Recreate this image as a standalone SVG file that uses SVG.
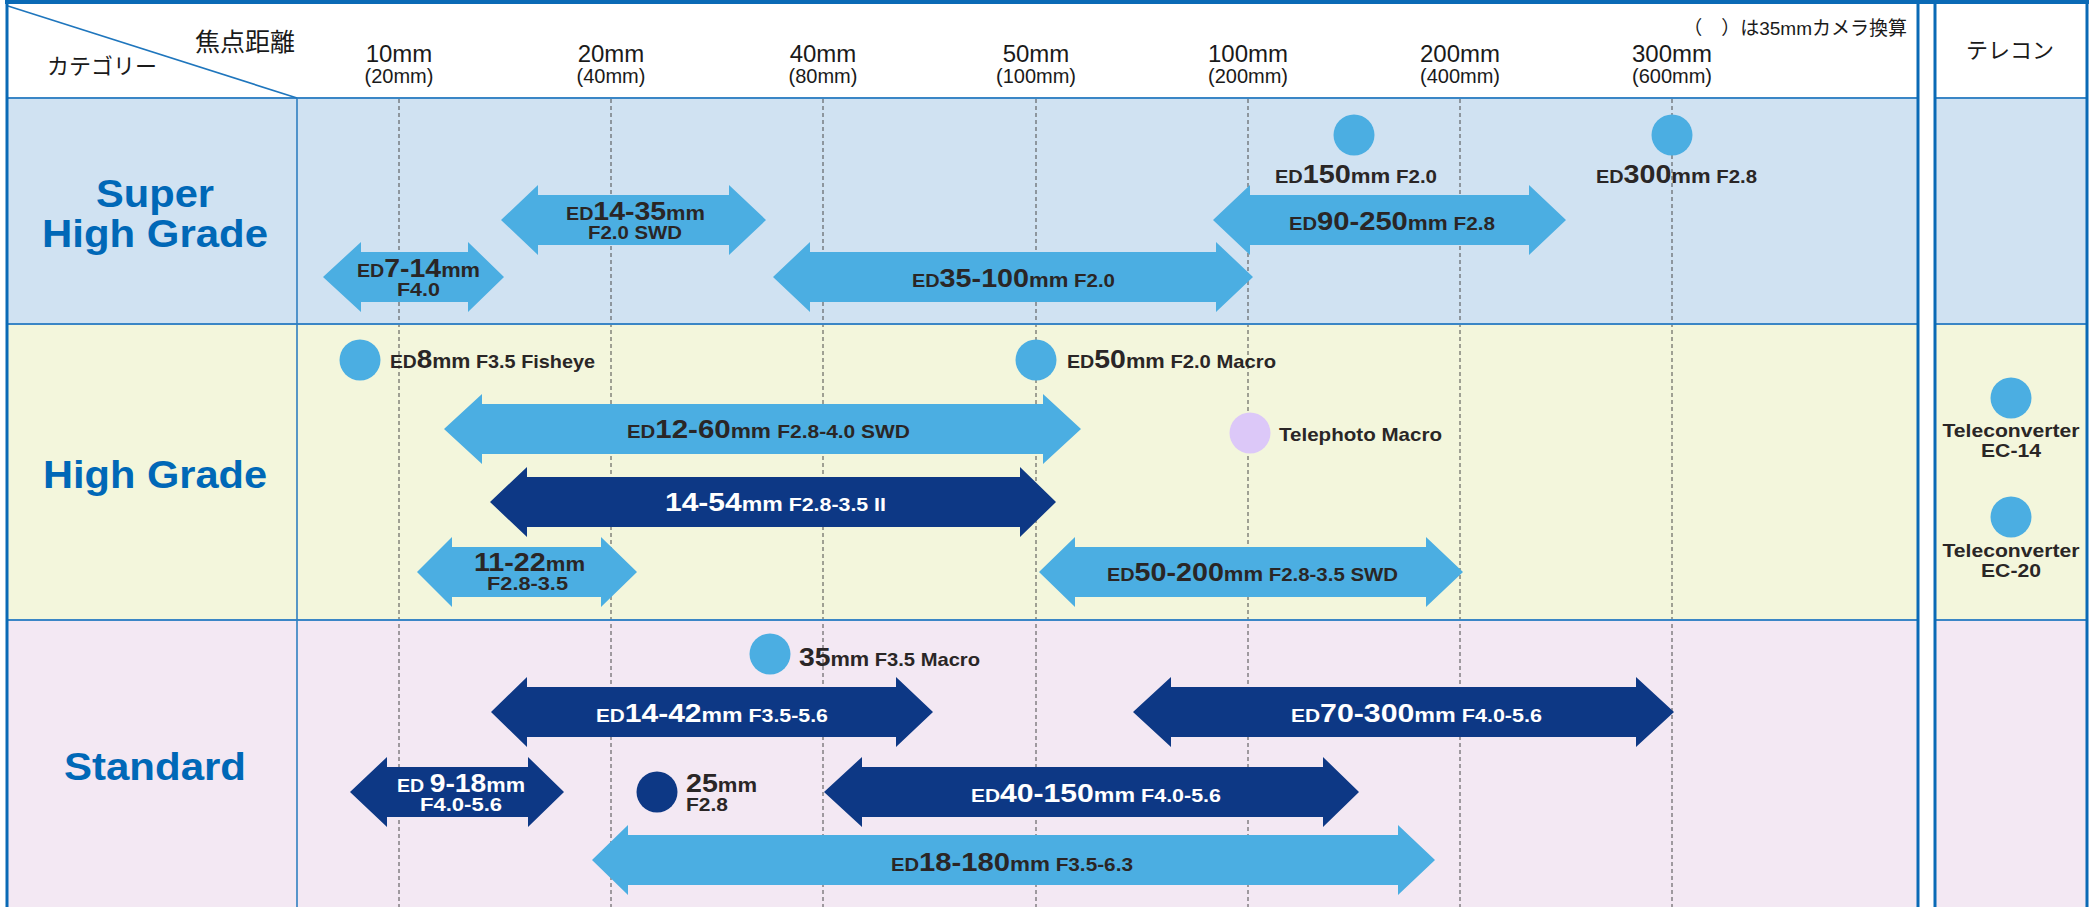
<svg xmlns="http://www.w3.org/2000/svg" width="2099" height="907" viewBox="0 0 2099 907">
<style>
text{font-family:"Liberation Sans",Arial,sans-serif}
.jp{font-family:"Liberation Sans","Noto Sans CJK JP",sans-serif;fill:#1a1a1a}
.hd{font-size:24px;fill:#1a1a1a;text-anchor:middle}
.hs{font-size:20px;fill:#1a1a1a;text-anchor:middle}
.cat{font-size:38px;font-weight:bold;fill:#0068b7;text-anchor:middle}
.lb{font-weight:bold;fill:#2a2626}
.w{fill:#ffffff}
.ed{font-size:18px}
.n{font-size:26px}
.mm{font-size:20px}
.ap{font-size:18.5px}
.light{fill:#4baee2}
.navy{fill:#0d3885}
.lav{fill:#dcc8f8}
.grid line{stroke:#4a4a4a;stroke-width:1;stroke-dasharray:4 3}
.sep{stroke:#3a86c6;stroke-width:2}
.bdr{fill:#0a6ab6}
</style>
<rect width="2099" height="907" fill="#ffffff"/>
<g id="backgrounds">
<rect x="7" y="4" width="1911" height="94" fill="#ffffff"/>
<rect x="1935" y="4" width="152" height="94" fill="#ffffff"/>
<rect x="7" y="98" width="1911" height="226" fill="#d0e2f2"/>
<rect x="1935" y="98" width="152" height="226" fill="#d0e2f2"/>
<rect x="7" y="324" width="1911" height="296" fill="#f3f6dc"/>
<rect x="1935" y="324" width="152" height="296" fill="#f3f6dc"/>
<rect x="7" y="620" width="1911" height="287" fill="#f3e8f3"/>
<rect x="1935" y="620" width="152" height="287" fill="#f3e8f3"/>
</g>
<g id="gridlines" class="grid">
<line x1="399" y1="99" x2="399" y2="907"/>
<line x1="611" y1="99" x2="611" y2="907"/>
<line x1="823" y1="99" x2="823" y2="907"/>
<line x1="1036" y1="99" x2="1036" y2="907"/>
<line x1="1248" y1="99" x2="1248" y2="907"/>
<line x1="1460" y1="99" x2="1460" y2="907"/>
<line x1="1672" y1="99" x2="1672" y2="907"/>
</g>
<g id="frame">
<line class="sep" x1="7" y1="98" x2="1918" y2="98"/>
<line class="sep" x1="7" y1="324" x2="1918" y2="324"/>
<line class="sep" x1="7" y1="620" x2="1918" y2="620"/>
<line class="sep" x1="1935" y1="98" x2="2087" y2="98"/>
<line class="sep" x1="1935" y1="324" x2="2087" y2="324"/>
<line class="sep" x1="1935" y1="620" x2="2087" y2="620"/>
<line x1="297" y1="98" x2="297" y2="907" stroke="#2f7fc0" stroke-width="1.6"/>
<line x1="8" y1="6" x2="297" y2="98" stroke="#1f76bd" stroke-width="1.6"/>
<rect class="bdr" x="5" y="0" width="2084" height="4"/>
<rect class="bdr" x="5.5" y="0" width="3" height="907"/>
<rect class="bdr" x="1916.5" y="0" width="3" height="907"/>
<rect class="bdr" x="1933.5" y="0" width="3" height="907"/>
<rect class="bdr" x="2085.5" y="0" width="3" height="907"/>
</g>
<g id="header">
<text class="jp" x="195" y="51" font-size="25">焦点距離</text>
<text class="jp" x="47" y="74" font-size="22">カテゴリー</text>
<text class="jp" x="1907" y="35" font-size="19" text-anchor="end">（　）は35mmカメラ換算</text>
<text class="jp" x="2010" y="58" font-size="22" text-anchor="middle">テレコン</text>
<text class="hd" x="399" y="62">10mm</text><text class="hs" x="399" y="83">(20mm)</text>
<text class="hd" x="611" y="62">20mm</text><text class="hs" x="611" y="83">(40mm)</text>
<text class="hd" x="823" y="62">40mm</text><text class="hs" x="823" y="83">(80mm)</text>
<text class="hd" x="1036" y="62">50mm</text><text class="hs" x="1036" y="83">(100mm)</text>
<text class="hd" x="1248" y="62">100mm</text><text class="hs" x="1248" y="83">(200mm)</text>
<text class="hd" x="1460" y="62">200mm</text><text class="hs" x="1460" y="83">(400mm)</text>
<text class="hd" x="1672" y="62">300mm</text><text class="hs" x="1672" y="83">(600mm)</text>
</g>
<g id="categories">
<text class="cat" x="155" y="207" textLength="118" lengthAdjust="spacingAndGlyphs">Super</text>
<text class="cat" x="155" y="247" textLength="226" lengthAdjust="spacingAndGlyphs">High Grade</text>
<text class="cat" x="155" y="488" textLength="224" lengthAdjust="spacingAndGlyphs">High Grade</text>
<text class="cat" x="155" y="780" textLength="182" lengthAdjust="spacingAndGlyphs">Standard</text>
</g>
<g id="ed7-14">
<path class="light" d="M323,277 L361,242 L361,252 L468,252 L468,242 L504,277 L468,312 L468,302 L361,302 L361,312 Z"/>
<text class="lb" x="357" y="277" textLength="123" lengthAdjust="spacingAndGlyphs"><tspan class="ed">ED</tspan><tspan class="n">7-14</tspan><tspan class="mm">mm</tspan></text>
<text class="lb ap" x="397" y="296" textLength="43" lengthAdjust="spacingAndGlyphs">F4.0</text>
</g>
<g id="ed14-35">
<path class="light" d="M501,220 L538,185 L538,195 L729,195 L729,185 L766,220 L729,255 L729,245 L538,245 L538,255 Z"/>
<text class="lb" x="566" y="220" textLength="139" lengthAdjust="spacingAndGlyphs"><tspan class="ed">ED</tspan><tspan class="n">14-35</tspan><tspan class="mm">mm</tspan></text>
<text class="lb ap" x="588" y="239" textLength="94" lengthAdjust="spacingAndGlyphs">F2.0 SWD</text>
</g>
<g id="ed35-100">
<path class="light" d="M773,277 L810,242 L810,252 L1216,252 L1216,242 L1253,277 L1216,312 L1216,302 L810,302 L810,312 Z"/>
<text class="lb" x="912" y="287" textLength="203" lengthAdjust="spacingAndGlyphs"><tspan class="ed">ED</tspan><tspan class="n">35-100</tspan><tspan class="mm">mm</tspan><tspan class="ap"> F2.0</tspan></text>
</g>
<g id="ed90-250">
<path class="light" d="M1213,220 L1250,185 L1250,195 L1529,195 L1529,185 L1566,220 L1529,255 L1529,245 L1250,245 L1250,255 Z"/>
<text class="lb" x="1289" y="230" textLength="206" lengthAdjust="spacingAndGlyphs"><tspan class="ed">ED</tspan><tspan class="n">90-250</tspan><tspan class="mm">mm</tspan><tspan class="ap"> F2.8</tspan></text>
</g>
<g id="ed150">
<circle class="light" cx="1354" cy="135" r="20.5"/>
<text class="lb" x="1275" y="183" textLength="162" lengthAdjust="spacingAndGlyphs"><tspan class="ed">ED</tspan><tspan class="n">150</tspan><tspan class="mm">mm</tspan><tspan class="ap"> F2.0</tspan></text>
</g>
<g id="ed300">
<circle class="light" cx="1672" cy="135" r="20.5"/>
<text class="lb" x="1596" y="183" textLength="161" lengthAdjust="spacingAndGlyphs"><tspan class="ed">ED</tspan><tspan class="n">300</tspan><tspan class="mm">mm</tspan><tspan class="ap"> F2.8</tspan></text>
</g>
<g id="ed8">
<circle class="light" cx="360" cy="360" r="20.5"/>
<text class="lb" x="390" y="368" textLength="205" lengthAdjust="spacingAndGlyphs"><tspan class="ed">ED</tspan><tspan class="n">8</tspan><tspan class="mm">mm</tspan><tspan class="ap"> F3.5 Fisheye</tspan></text>
</g>
<g id="ed50">
<circle class="light" cx="1036" cy="360" r="20.5"/>
<text class="lb" x="1067" y="368" textLength="209" lengthAdjust="spacingAndGlyphs"><tspan class="ed">ED</tspan><tspan class="n">50</tspan><tspan class="mm">mm</tspan><tspan class="ap"> F2.0 Macro</tspan></text>
</g>
<g id="telephoto-macro">
<circle class="lav" cx="1250" cy="433" r="20.5"/>
<text class="lb" x="1279" y="441" font-size="19" textLength="163" lengthAdjust="spacingAndGlyphs">Telephoto Macro</text>
</g>
<g id="ed12-60">
<path class="light" d="M444,429 L482,394 L482,404 L1043,404 L1043,394 L1081,429 L1043,464 L1043,454 L482,454 L482,464 Z"/>
<text class="lb" x="627" y="438" textLength="283" lengthAdjust="spacingAndGlyphs"><tspan class="ed">ED</tspan><tspan class="n">12-60</tspan><tspan class="mm">mm </tspan><tspan class="ap"> F2.8-4.0 SWD</tspan></text>
</g>
<g id="z14-54">
<path class="navy" d="M490,502 L527,467 L527,477 L1020,477 L1020,467 L1056,502 L1020,537 L1020,527 L527,527 L527,537 Z"/>
<text class="lb w" x="665" y="511" textLength="221" lengthAdjust="spacingAndGlyphs"><tspan class="n">14-54</tspan><tspan class="mm">mm</tspan><tspan class="ap"> F2.8-3.5 II</tspan></text>
</g>
<g id="z11-22">
<path class="light" d="M417,572 L452,537 L452,547 L601,547 L601,537 L637,572 L601,607 L601,597 L452,597 L452,607 Z"/>
<text class="lb" x="474" y="571" textLength="111" lengthAdjust="spacingAndGlyphs"><tspan class="n">11-22</tspan><tspan class="mm">mm</tspan></text>
<text class="lb ap" x="487" y="590" textLength="81" lengthAdjust="spacingAndGlyphs">F2.8-3.5</text>
</g>
<g id="ed50-200">
<path class="light" d="M1039,572 L1075,537 L1075,547 L1426,547 L1426,537 L1463,572 L1426,607 L1426,597 L1075,597 L1075,607 Z"/>
<text class="lb" x="1107" y="581" textLength="291" lengthAdjust="spacingAndGlyphs"><tspan class="ed">ED</tspan><tspan class="n">50-200</tspan><tspan class="mm">mm</tspan><tspan class="ap"> F2.8-3.5 SWD</tspan></text>
</g>
<g id="ec-14">
<circle class="light" cx="2011" cy="398" r="20.5"/>
<text class="lb" x="2011" y="437" font-size="18" text-anchor="middle" textLength="137" lengthAdjust="spacingAndGlyphs">Teleconverter</text>
<text class="lb" x="2011" y="457" font-size="18" text-anchor="middle" textLength="60" lengthAdjust="spacingAndGlyphs">EC-14</text>
</g>
<g id="ec-20">
<circle class="light" cx="2011" cy="517" r="20.5"/>
<text class="lb" x="2011" y="557" font-size="18" text-anchor="middle" textLength="137" lengthAdjust="spacingAndGlyphs">Teleconverter</text>
<text class="lb" x="2011" y="577" font-size="18" text-anchor="middle" textLength="60" lengthAdjust="spacingAndGlyphs">EC-20</text>
</g>
<g id="m35">
<circle class="light" cx="770" cy="654" r="20.5"/>
<text class="lb" x="799" y="666" textLength="181" lengthAdjust="spacingAndGlyphs"><tspan class="n">35</tspan><tspan class="mm">mm</tspan><tspan class="ap"> F3.5 Macro</tspan></text>
</g>
<g id="ed14-42">
<path class="navy" d="M491,712 L527,677 L527,687 L896,687 L896,677 L933,712 L896,747 L896,737 L527,737 L527,747 Z"/>
<text class="lb w" x="596" y="722" textLength="232" lengthAdjust="spacingAndGlyphs"><tspan class="ed">ED</tspan><tspan class="n">14-42</tspan><tspan class="mm">mm</tspan><tspan class="ap"> F3.5-5.6</tspan></text>
</g>
<g id="ed70-300">
<path class="navy" d="M1133,712 L1171,677 L1171,687 L1636,687 L1636,677 L1674,712 L1636,747 L1636,737 L1171,737 L1171,747 Z"/>
<text class="lb w" x="1291" y="722" textLength="251" lengthAdjust="spacingAndGlyphs"><tspan class="ed">ED</tspan><tspan class="n">70-300</tspan><tspan class="mm">mm</tspan><tspan class="ap"> F4.0-5.6</tspan></text>
</g>
<g id="ed9-18">
<path class="navy" d="M350,792 L387,757 L387,767 L528,767 L528,757 L564,792 L528,827 L528,817 L387,817 L387,827 Z"/>
<text class="lb w" x="397" y="792" textLength="128" lengthAdjust="spacingAndGlyphs"><tspan class="ed">ED </tspan><tspan class="n">9-18</tspan><tspan class="mm">mm</tspan></text>
<text class="lb w ap" x="420" y="811" textLength="82" lengthAdjust="spacingAndGlyphs">F4.0-5.6</text>
</g>
<g id="m25">
<circle class="navy" cx="657" cy="792" r="20.5"/>
<text class="lb" x="686" y="792" textLength="71" lengthAdjust="spacingAndGlyphs"><tspan class="n">25</tspan><tspan class="mm">mm</tspan></text>
<text class="lb ap" x="686" y="811" textLength="42" lengthAdjust="spacingAndGlyphs">F2.8</text>
</g>
<g id="ed40-150">
<path class="navy" d="M824,792 L862,757 L862,767 L1323,767 L1323,757 L1359,792 L1323,827 L1323,817 L862,817 L862,827 Z"/>
<text class="lb w" x="971" y="802" textLength="250" lengthAdjust="spacingAndGlyphs"><tspan class="ed">ED</tspan><tspan class="n">40-150</tspan><tspan class="mm">mm</tspan><tspan class="ap"> F4.0-5.6</tspan></text>
</g>
<g id="ed18-180">
<path class="light" d="M592,860 L628,825 L628,835 L1398,835 L1398,825 L1435,860 L1398,895 L1398,885 L628,885 L628,895 Z"/>
<text class="lb" x="891" y="871" textLength="242" lengthAdjust="spacingAndGlyphs"><tspan class="ed">ED</tspan><tspan class="n">18-180</tspan><tspan class="mm">mm</tspan><tspan class="ap"> F3.5-6.3</tspan></text>
</g>
</svg>
